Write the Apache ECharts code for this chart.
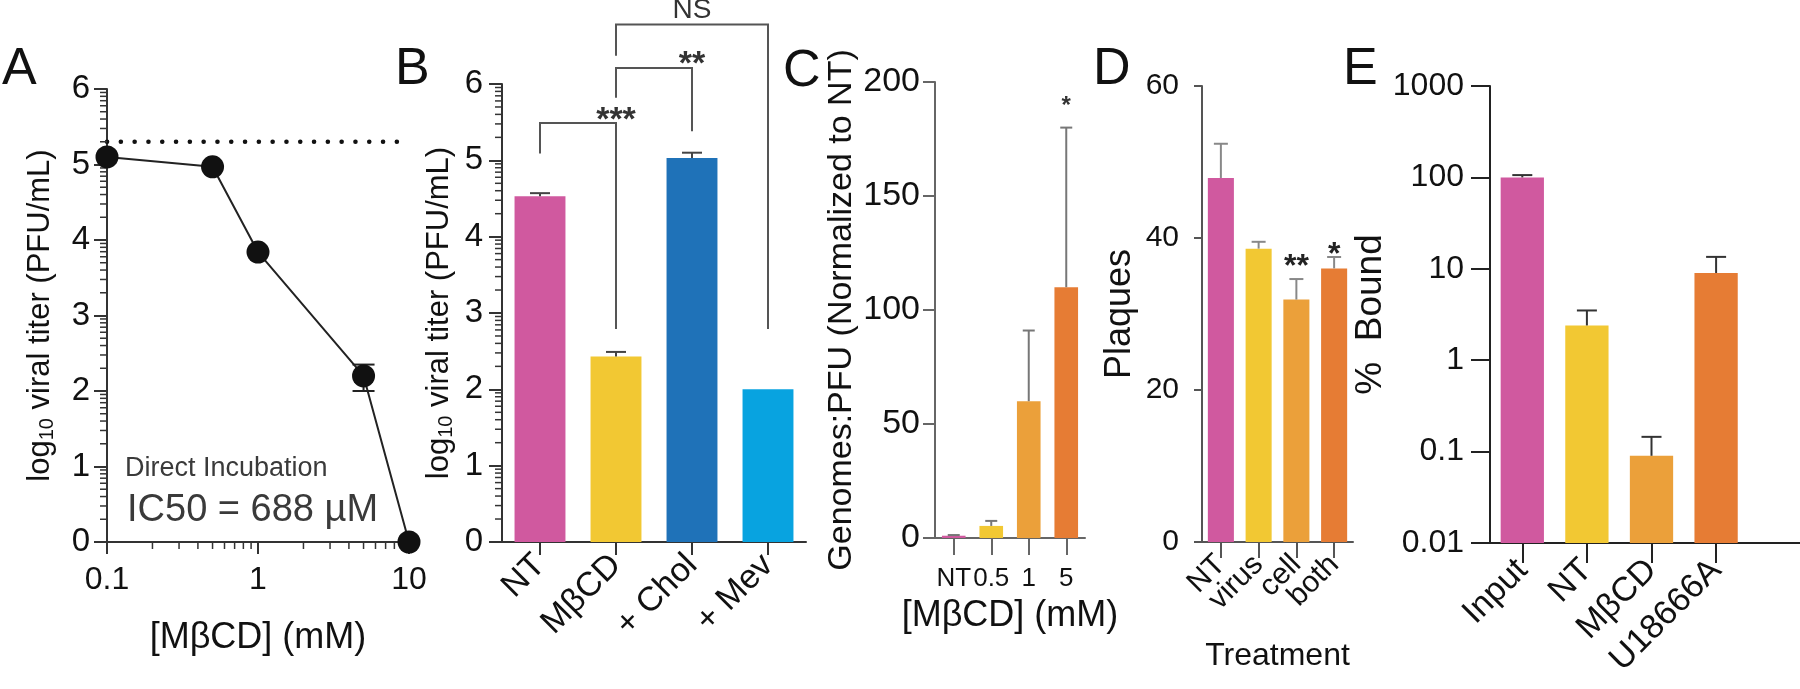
<!DOCTYPE html>
<html><head><meta charset="utf-8">
<script src="https://cdn.jsdelivr.net/npm/echarts@6/dist/echarts.min.js"></script>
<style>html,body{margin:0;padding:0;background:#fff}#c{width:1800px;height:689px}</style>
</head><body><div id="c"></div>
<script>
// ---------- Panel A ----------
const aDose = [0.1, 0.5, 1, 5, 10];
const aTiter = [5.1, 4.97, 3.84, 2.2, 0];
const aErrLow = [5.1, 4.97, 3.84, 2.0, 0];
const aErrHigh = [5.1, 4.97, 3.84, 2.35, 0];
const aBaseline = 5.3;
const aNotes = [['Direct Incubation', 0.1316, 0.97, 27], ['IC50 = 688 µM', 0.1357, 0.42, 38]];
// ---------- Panel B ----------
const bCats = ['NT', 'MβCD', '+ Chol', '+ Mev'];
const bTiter = [4.53, 2.43, 5.03, 2.0];
const bErrHigh = [4.57, 2.49, 5.10, 2.0];
// [from, to, top, leftEnd, rightEnd, text, textY]
const bBrackets = [[0, 1, 5.49, 5.09, 2.79, '***', 5.62], [1, 2, 6.21, 5.82, 5.38, '**', 6.36], [1, 3, 6.78, 6.37, 2.79, 'NS', 6.97]];
// ---------- Panel C ----------
const cCats = ['NT', '0.5', '1', '5'];
const cRatio = [1.0, 5.3, 60, 110];
const cErrHigh = [1.3, 7.5, 91, 180];
const cSig = [['*', 3, 192]];
// ---------- Panel D ----------
const dCats = ['NT', 'virus', 'cell', 'both'];
const dPlaques = [47.9, 38.6, 31.9, 36.0];
const dErrHigh = [52.4, 39.5, 34.6, 37.5];
const dSig = [['**', 2, 37.2], ['*', 3, 38.8]];
// ---------- Panel E ----------
const eCats = ['Input', 'NT', 'MβCD', 'U18666A'];
const eBound = [100, 2.4, 0.09, 9.0];
const eErrHigh = [106, 3.5, 0.145, 13.5];
const eTickLabels = ['0.01', '0.1', '1', '10', '100', '1000'];
// minor tick multipliers for log10-valued axes
const logMinor = [2, 3, 4, 5, 6, 7, 8, 9];

const PINK = '#D0599F', YEL = '#F2C833', BLUE = '#1F72B8', LBLUE = '#08A3E0', LOR = '#EBA03A', OR = '#E67C34';
const bColors = [PINK, YEL, BLUE, LBLUE];
const cColors = [PINK, YEL, LOR, OR];
const FONT = "'Liberation Sans', Arial, Helvetica, sans-serif";
const TXT = '#111';

const chart = echarts.init(document.getElementById('c'), null, {renderer: 'canvas'});

function errRender(capHalf, color, lw, both) {
  return function (params, api) {
    const x = api.value(0), lo = api.value(1), hi = api.value(2);
    const p0 = api.coord([x, lo]), p1 = api.coord([x, hi]);
    const ch = [
      {type: 'line', shape: {x1: p0[0], y1: p0[1], x2: p1[0], y2: p1[1]}, style: {stroke: color, lineWidth: lw}},
      {type: 'line', shape: {x1: p1[0] - capHalf, y1: p1[1], x2: p1[0] + capHalf, y2: p1[1]}, style: {stroke: color, lineWidth: lw}}
    ];
    if (both) ch.push({type: 'line', shape: {x1: p0[0] - capHalf, y1: p0[1], x2: p0[0] + capHalf, y2: p0[1]}, style: {stroke: color, lineWidth: lw}});
    return {type: 'group', children: ch};
  };
}
function yMinorRender(len, color, refX) {
  return function (params, api) {
    const y = api.coord([refX, api.value(1)])[1];
    const x = params.coordSys.x;
    return {type: 'line', shape: {x1: x - len, y1: y, x2: x, y2: y}, style: {stroke: color, lineWidth: 1.5}};
  };
}
function textRender(list, font, color, dy, align) {
  return function (params, api) {
    const it = list[params.dataIndex];
    const p = api.coord([it[1], it[2]]);
    return {type: 'text', x: p[0], y: p[1] + dy,
      style: {text: it[0], font: font(it), fill: color, align: align, verticalAlign: 'middle', textAlign: align, textVerticalAlign: 'middle'}};
  };
}

const aMinorY = [];
for (let k = 0; k < 6; k++) logMinor.forEach(m => aMinorY.push([0.1, k + Math.log10(m)]));
const aMinorX = [];
[0.1, 1].forEach(dec => logMinor.forEach(m => aMinorX.push([dec * m, 0])));
const bMinorY = [];
for (let k = 0; k < 6; k++) logMinor.forEach(m => bMinorY.push([0, k + Math.log10(m)]));

const eLog = v => Math.log10(v) + 2;

function yAxisBase(gi, o) {
  return Object.assign({
    gridIndex: gi, type: 'value', splitLine: {show: false},
    axisLine: {show: true, lineStyle: {color: '#333', width: 2}},
    axisTick: {show: true, length: 13, lineStyle: {color: '#333', width: 2}},
    axisLabel: {fontSize: 33, color: TXT, fontFamily: FONT, margin: 17},
    nameLocation: 'middle', nameRotate: 90,
    nameTextStyle: {fontSize: 26, color: TXT, fontFamily: FONT}
  }, o);
}
function catAxis(gi, data, o) {
  return Object.assign({
    gridIndex: gi, type: 'category', data: data,
    axisLine: {show: true, lineStyle: {color: '#333', width: 2}},
    axisTick: {show: true, alignWithLabel: true, length: 13, lineStyle: {color: '#333', width: 2}},
    axisLabel: {interval: 0, fontSize: 34, color: TXT, fontFamily: FONT, rotate: 45, margin: 18},
    splitLine: {show: false}
  }, o);
}
const titerName = {fontSize: 31, lineHeight: 34, color: TXT, fontFamily: FONT,
  rich: {s: {fontSize: 20, lineHeight: 16, verticalAlign: 'bottom', fontFamily: FONT, color: TXT}}};

const option = {
  animation: false,
  backgroundColor: '#fff',
  textStyle: {fontFamily: FONT},
  graphic: [['A', 2, 70], ['B', 395, 70], ['C', 783, 72], ['D', 1093, 70], ['E', 1343, 70]].map(t => ({
    type: 'text', x: t[1], y: t[2],
    style: {text: t[0], font: '52px ' + FONT, fill: '#111', align: 'left', verticalAlign: 'middle', textAlign: 'left', textVerticalAlign: 'middle'}
  })),
  grid: [
    {left: 107, top: 89, width: 302, height: 453, outerBoundsMode: 'none'},
    {left: 502, top: 84, width: 304, height: 458, outerBoundsMode: 'none'},
    {left: 935, top: 82, width: 150, height: 456, outerBoundsMode: 'none'},
    {left: 1202, top: 86, width: 151, height: 456, outerBoundsMode: 'none'},
    {left: 1490, top: 86, width: 323, height: 457, outerBoundsMode: 'none'}
  ],
  xAxis: [
    {gridIndex: 0, type: 'log', logBase: 10, min: 0.1, max: 10,
      axisLine: {show: true, lineStyle: {color: '#333', width: 2}},
      axisTick: {show: true, length: 12, lineStyle: {color: '#333', width: 2}},
      axisLabel: {fontSize: 32, color: TXT, fontFamily: FONT, margin: 22, formatter: v => String(v)},
      splitLine: {show: false},
      name: '[MβCD] (mM)', nameLocation: 'middle', nameGap: 78,
      nameTextStyle: {fontSize: 36, color: TXT, fontFamily: FONT}},
    catAxis(1, bCats, {}),
    catAxis(2, cCats, {
      axisLine: {show: true, lineStyle: {color: '#666', width: 2}},
      axisTick: {show: true, alignWithLabel: true, length: 17, lineStyle: {color: '#666', width: 2}},
      axisLabel: {interval: 0, fontSize: 26, color: TXT, fontFamily: FONT, rotate: 0, margin: 28},
      name: '[MβCD] (mM)', nameLocation: 'middle', nameGap: 60,
      nameTextStyle: {fontSize: 36, color: TXT, fontFamily: FONT}}),
    catAxis(3, dCats, {
      axisLine: {show: true, lineStyle: {color: '#555', width: 2}},
      axisTick: {show: true, alignWithLabel: true, length: 16, lineStyle: {color: '#555', width: 2}},
      axisLabel: {interval: 0, fontSize: 30, color: TXT, fontFamily: FONT, rotate: 45, margin: 18},
      name: 'Treatment', nameLocation: 'middle', nameGap: 98,
      nameTextStyle: {fontSize: 32, color: TXT, fontFamily: FONT}}),
    catAxis(4, eCats.concat(['']), {
      axisLine: {show: true, lineStyle: {color: '#222', width: 2}},
      axisTick: {show: true, alignWithLabel: true, length: 20, interval: (i, v) => v !== '', lineStyle: {color: '#222', width: 2}},
      axisLabel: {interval: 0, fontSize: 34, color: TXT, fontFamily: FONT, rotate: 45, margin: 22}})
  ],
  yAxis: [
    yAxisBase(0, {min: 0, max: 6, interval: 1, name: 'log{s|10} viral titer (PFU/mL)', nameGap: 50, nameTextStyle: titerName}),
    yAxisBase(1, {min: 0, max: 6, interval: 1, name: 'log{s|10} viral titer (PFU/mL)', nameGap: 46,
      axisLabel: {fontSize: 33, color: TXT, fontFamily: FONT, margin: 19}, nameTextStyle: titerName}),
    yAxisBase(2, {min: 0, max: 200, interval: 50, name: 'Genomes:PFU (Normalized to NT)', nameGap: 76,
      axisLine: {show: true, lineStyle: {color: '#666', width: 2}},
      axisTick: {show: true, length: 12, lineStyle: {color: '#666', width: 2}},
      axisLabel: {fontSize: 34, color: TXT, fontFamily: FONT, margin: 15},
      nameTextStyle: {fontSize: 34, color: TXT, fontFamily: FONT}}),
    yAxisBase(3, {min: 0, max: 60, interval: 20, name: 'Plaques', nameGap: 64,
      axisLine: {show: true, lineStyle: {color: '#555', width: 2}},
      axisTick: {show: true, length: 8, lineStyle: {color: '#555', width: 2}},
      axisLabel: {fontSize: 30, color: TXT, fontFamily: FONT, margin: 23},
      nameTextStyle: {fontSize: 36, color: TXT, fontFamily: FONT}}),
    yAxisBase(4, {min: 0, max: 5, interval: 1, name: '%  Bound', nameGap: 80,
      axisLine: {show: true, lineStyle: {color: '#222', width: 2}},
      axisTick: {show: true, length: 19, lineStyle: {color: '#222', width: 2}},
      axisLabel: {fontSize: 32, color: TXT, fontFamily: FONT, margin: 26, formatter: v => eTickLabels[Math.round(v)]},
      nameTextStyle: {fontSize: 37, color: TXT, fontFamily: FONT}})
  ],
  series: [
    // ----- A -----
    {type: 'line', xAxisIndex: 0, yAxisIndex: 0, data: aDose.map(d => [d, aBaseline]).filter((d, i) => i === 0 || i === aDose.length - 1),
      showSymbol: false, symbol: 'none', silent: true, z: 1,
      lineStyle: {color: '#111', width: 4.5, type: [0.1, 13.7], cap: 'round'}},
    {type: 'custom', xAxisIndex: 0, yAxisIndex: 0, z: 2,
      data: aDose.map((d, i) => [d, aErrLow[i], aErrHigh[i]]).filter(r => r[1] !== r[2]),
      renderItem: errRender(11, '#222', 2, true)},
    {type: 'line', xAxisIndex: 0, yAxisIndex: 0, data: aDose.map((d, i) => [d, aTiter[i]]),
      symbol: 'circle', symbolSize: 23, showSymbol: true, z: 3,
      itemStyle: {color: '#111'}, lineStyle: {color: '#222', width: 2}},
    {type: 'custom', xAxisIndex: 0, yAxisIndex: 0, data: aMinorY, renderItem: yMinorRender(7, '#333', 0.1)},
    {type: 'custom', xAxisIndex: 0, yAxisIndex: 0, data: aMinorX,
      renderItem: function (params, api) {
        const x = api.coord([api.value(0), 0])[0];
        const y = params.coordSys.y + params.coordSys.height;
        return {type: 'line', shape: {x1: x, y1: y, x2: x, y2: y + 7}, style: {stroke: '#333', lineWidth: 1.5}};
      }},
    {type: 'custom', xAxisIndex: 0, yAxisIndex: 0, data: aNotes.map(n => [n[1], n[2]]),
      renderItem: textRender(aNotes, it => it[3] + 'px ' + FONT, '#3a3a3a', 0, 'left')},
    // ----- B -----
    {type: 'bar', xAxisIndex: 1, yAxisIndex: 1, barWidth: '67%',
      data: bTiter.map((v, i) => ({value: v, itemStyle: {color: bColors[i]}}))},
    {type: 'custom', xAxisIndex: 1, yAxisIndex: 1, z: 3,
      data: bTiter.map((v, i) => [i, v, bErrHigh[i]]).filter(r => r[1] !== r[2]),
      renderItem: errRender(10, '#444', 2, false)},
    {type: 'custom', xAxisIndex: 1, yAxisIndex: 1, data: bMinorY, renderItem: yMinorRender(7, '#333', 0)},
    {type: 'custom', xAxisIndex: 1, yAxisIndex: 1, data: bBrackets.map(b => [b[0], b[2]]),
      renderItem: function (params, api) {
        const b = bBrackets[params.dataIndex];
        const pts = [api.coord([b[0], b[3]]), api.coord([b[0], b[2]]), api.coord([b[1], b[2]]), api.coord([b[1], b[4]])];
        const t = api.coord([(b[0] + b[1]) / 2, b[6]]);
        const star = b[5].indexOf('*') >= 0;
        return {type: 'group', children: [
          {type: 'polyline', shape: {points: pts}, style: {stroke: '#555', lineWidth: 2, fill: null}},
          {type: 'text', x: t[0], y: t[1] + (star ? 8 : 0), style: {text: b[5], font: (star ? 'bold 34px ' : '28px ') + FONT, fill: '#333',
            align: 'center', verticalAlign: 'middle', textAlign: 'center', textVerticalAlign: 'middle'}}
        ]};
      }},
    // ----- C -----
    {type: 'bar', xAxisIndex: 2, yAxisIndex: 2, barWidth: '63%',
      data: cRatio.map((v, i) => ({value: v, itemStyle: {color: cColors[i]}}))},
    {type: 'custom', xAxisIndex: 2, yAxisIndex: 2, z: 3,
      data: cRatio.map((v, i) => [i, v, cErrHigh[i]]),
      renderItem: errRender(6, '#777', 2, false)},
    {type: 'custom', xAxisIndex: 2, yAxisIndex: 2, data: cSig.map(s => [s[1], s[2]]),
      renderItem: textRender(cSig, () => 'bold 24px ' + FONT, '#333', 6, 'center')},
    // ----- D -----
    {type: 'bar', xAxisIndex: 3, yAxisIndex: 3, barWidth: '69%',
      data: dPlaques.map((v, i) => ({value: v, itemStyle: {color: cColors[i]}}))},
    {type: 'custom', xAxisIndex: 3, yAxisIndex: 3, z: 3,
      data: dPlaques.map((v, i) => [i, v, dErrHigh[i]]),
      renderItem: errRender(7, '#888', 2, false)},
    {type: 'custom', xAxisIndex: 3, yAxisIndex: 3, data: dSig.map(s => [s[1], s[2]]),
      renderItem: textRender(dSig, () => 'bold 32px ' + FONT, '#222', 8, 'center')},
    // ----- E -----
    {type: 'bar', xAxisIndex: 4, yAxisIndex: 4, barWidth: '67%',
      data: eBound.map((v, i) => ({value: eLog(v), itemStyle: {color: cColors[i]}}))},
    {type: 'custom', xAxisIndex: 4, yAxisIndex: 4, z: 3,
      data: eBound.map((v, i) => [i, eLog(v), eLog(eErrHigh[i])]),
      renderItem: errRender(10, '#333', 2, false)}
  ]
};
chart.setOption(option);
</script>
</body></html>
